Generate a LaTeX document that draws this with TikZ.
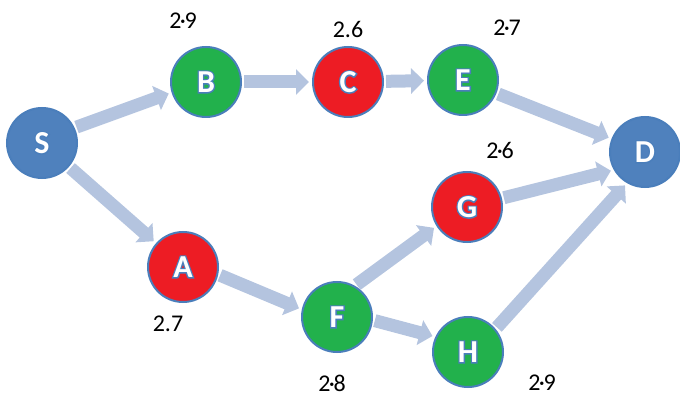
\documentclass[tikz,border=0pt]{standalone}
\usepackage{fontspec}
\setmainfont{Carlito}
\usetikzlibrary{arrows.meta}

\definecolor{nodeblue}{HTML}{4F81BD}
\definecolor{rimblue}{HTML}{4A7EBB}
\definecolor{nodegreen}{HTML}{22B14C}
\definecolor{nodered}{HTML}{ED1C24}
\definecolor{flowc}{HTML}{B4C4DF}

% white bold letter over a stroked blue copy of itself
\newcommand\rimletter[1]{%
  \makebox[0pt]{\textcolor{rimblue}{%
    \special{pdf:literal direct 1 Tr 2.6 w 0.29 0.494 0.733 RG}%
    #1%
    \special{pdf:literal direct 0 Tr}}}%
  \makebox[0pt]{\textcolor{white}{#1}}}

% weight with a tight raised dot
\newcommand\mdot{\kern-1.5pt·\kern-1.5pt}

\tikzset{
  vert/.style={circle, minimum size=70pt, inner sep=0pt, draw=rimblue,
    line width=2pt, font=\fontsize{32}{34}\selectfont\bfseries},
  bluev/.style={vert, fill=nodeblue},
  greenv/.style={vert, fill=nodegreen},
  redv/.style={vert, fill=nodered},
  weight/.style={font=\fontsize{24}{26}\selectfont, text=black, inner sep=0pt},
  flow/.style={draw=flowc, line width=13pt,
    -{Triangle[width=25pt,length=13pt]},
    shorten <=2pt, shorten >=3pt}
}

\begin{document}
\begin{tikzpicture}[x=1pt, y=-1pt]
  \useasboundingbox (0,0) rectangle (680,398);

  % vertices
  \node[bluev]  (S) at (42,143)  {\rimletter{S}};
  \node[greenv] (B) at (206,82)  {\rimletter{B}};
  \node[redv]   (C) at (348,82)  {\rimletter{C}};
  \node[greenv] (E) at (463,80)  {\rimletter{E}};
  \node[bluev]  (D) at (645,152) {\rimletter{D}};
  \node[redv]   (G) at (467,207) {\rimletter{G}};
  \node[redv]   (A) at (183,267) {\rimletter{A}};
  \node[greenv] (F) at (337,317) {\rimletter{F}};
  \node[greenv] (H) at (468,352) {\rimletter{H}};

  % weights
  \node[weight] (wB) at (183,21)  {2\mdot 9};
  \node[weight] (wC) at (348,29)  {2.6};
  \node[weight] (wE) at (507,28)  {2\mdot 7};
  \node[weight] (wG) at (500,150) {2\mdot 6};
  \node[weight] (wA) at (168,324) {2.7};
  \node[weight] (wF) at (332,383) {2\mdot 8};
  \node[weight] (wH) at (542,383) {2\mdot 9};

  % flows
  \draw[flow] (S.25) -- (B.197);
  \draw[flow] (S) -- (A);
  \draw[flow] (B) -- (C);
  \draw[flow] (C) -- (E);
  \draw[flow] (E) -- (D);
  \draw[flow] (A.-12) -- (F.168);
  \draw[flow] (F.60) -- (G.212);
  \draw[flow] (F.-5) -- (H.155);
  \draw[flow] (G) -- (D.210);
  \draw[flow] (H.40) -- (D.240);
\end{tikzpicture}
\end{document}
